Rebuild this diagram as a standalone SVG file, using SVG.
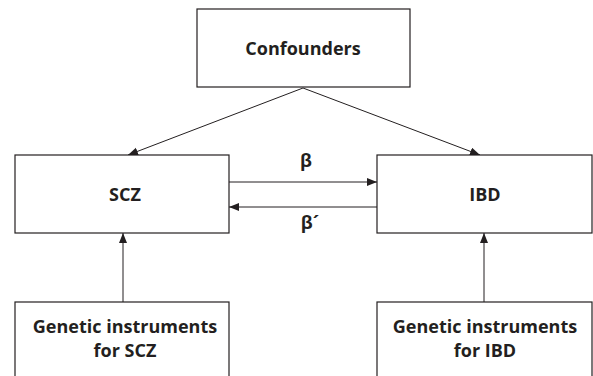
<svg xmlns="http://www.w3.org/2000/svg" width="593" height="376" viewBox="0 0 593 376">
<defs>
<style>
.box{fill:#fff;stroke:#231f20;stroke-width:1.2}
.lbl{font-family:"Open Sans","Noto Sans",sans-serif;font-weight:bold;font-size:18px;fill:#231f20;text-anchor:middle}
.edge{stroke:#231f20;stroke-width:1;fill:none;marker-end:url(#ah)}
</style>
<marker id="ah" markerUnits="userSpaceOnUse" markerWidth="12" markerHeight="10" refX="10" refY="4" orient="auto">
<path d="M0,0 L10,4 L0,8 Z" fill="#231f20"/>
</marker>
</defs>
<rect width="593" height="376" fill="#fff"/>
<g id="edges">
<line class="edge" x1="303" y1="88" x2="128" y2="155"/>
<line class="edge" x1="303" y1="88" x2="480" y2="155"/>
<line class="edge" x1="229" y1="182" x2="377" y2="182"/>
<line class="edge" x1="377" y1="207" x2="229" y2="207"/>
<line class="edge" x1="123" y1="302" x2="123" y2="233"/>
<line class="edge" x1="484" y1="302" x2="484" y2="233"/>
</g>
<g id="confounders">
<rect class="box" x="197" y="9" width="213" height="78"/>
<text class="lbl" x="303" y="55">Confounders</text>
</g>
<g id="scz">
<rect class="box" x="15" y="155" width="214" height="78"/>
<text class="lbl" x="125" y="201">SCZ</text>
</g>
<g id="ibd">
<rect class="box" x="377" y="155" width="215" height="78"/>
<text class="lbl" x="485" y="201">IBD</text>
</g>
<g id="gi-scz">
<rect class="box" x="15" y="302" width="214" height="80"/>
<text class="lbl" x="125" y="333">Genetic instruments</text>
<text class="lbl" x="125" y="357">for SCZ</text>
</g>
<g id="gi-ibd">
<rect class="box" x="377" y="302" width="215" height="80"/>
<text class="lbl" x="485" y="333">Genetic instruments</text>
<text class="lbl" x="485" y="357">for IBD</text>
</g>
<g id="labels">
<text class="lbl" x="306" y="167">β</text>
<text class="lbl" x="310" y="229">β´</text>
</g>
</svg>
